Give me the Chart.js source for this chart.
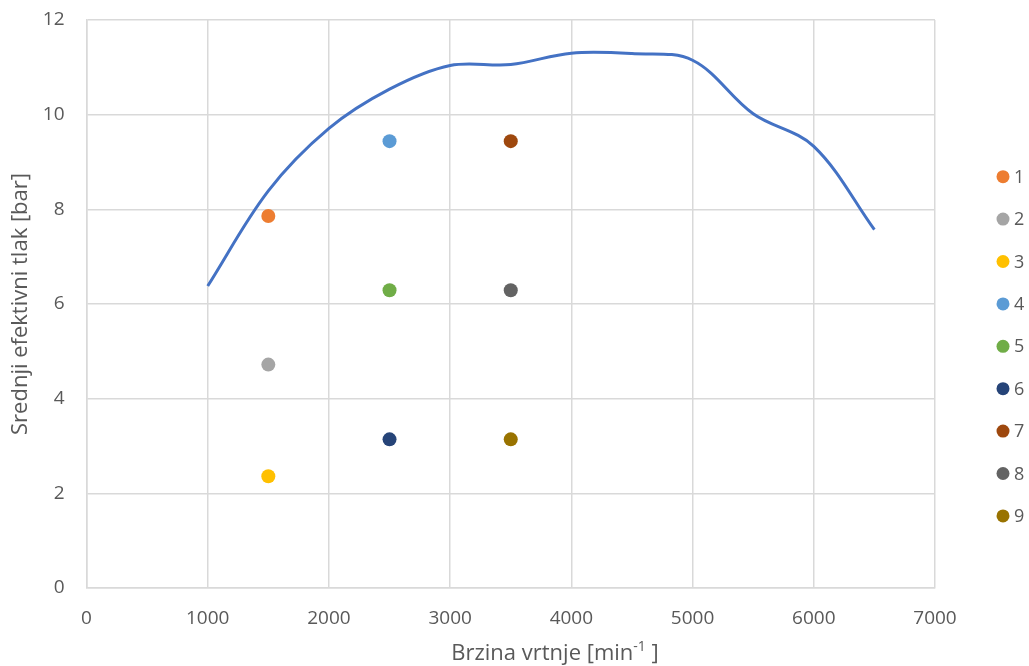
<!DOCTYPE html>
<html lang="hr">
<head>
  <meta charset="UTF-8">
  <title>Srednji efektivni tlak</title>
  <style>
    body {
      margin: 0;
      background: #fff;
    }
    #wrap {
      width: 1029px;
      height: 666px;
    }
  </style>
</head>
<body>
<div id="wrap">
  <canvas id="chart" width="1029" height="666"></canvas>
</div>

<script src="https://cdn.jsdelivr.net/npm/chart.js@4.4.0/dist/chart.umd.min.js"></script>
<script>
  // full-load curve
  const rpm = [1000, 1500, 2000, 2500, 3000, 3500, 4000, 4500, 5000, 5500, 6000, 6500];
  const pressure = [6.38, 8.39, 9.71, 10.54, 11.04, 11.06, 11.30, 11.29, 11.15, 10.02, 9.33, 7.57];

  // measurement points 1..9
  const pointNames = ['1', '2', '3', '4', '5', '6', '7', '8', '9'];
  const pointRpm = [1500, 1500, 1500, 2500, 2500, 2500, 3500, 3500, 3500];
  const pointPressure = [7.86, 4.72, 2.36, 9.44, 6.29, 3.14, 9.44, 6.29, 3.14];
  const pointColors = ['#ED7D31', '#A5A5A5', '#FFC000', '#5B9BD5', '#70AD47',
                       '#264478', '#9E480E', '#636363', '#997300'];

  const xTicks = [0, 1000, 2000, 3000, 4000, 5000, 6000, 7000];
  const yTicks = [0, 2, 4, 6, 8, 10, 12];

  const FONT = "'Open Sans', sans-serif";
  const TEXT = '#595959';
  const GRID = '#d9d9d9';

  const datasets = pointNames.map((name, i) => ({
    label: name,
    data: [{ x: pointRpm[i], y: pointPressure[i] }],
    backgroundColor: pointColors[i],
    borderColor: pointColors[i],
    borderWidth: 0,
    pointRadius: 7,
    pointHoverRadius: 7,
    inLegend: true
  }));

  datasets.push({
    label: 'krivulja',
    data: rpm.map((r, i) => ({ x: r, y: pressure[i] })),
    showLine: true,
    borderColor: '#4472C4',
    borderWidth: 3,
    pointRadius: 0,
    tension: 0.35,
    inLegend: false
  });

  // legend on the right, drawn by hand to get Excel-like spacing
  const sideLegend = {
    id: 'sideLegend',
    afterDraw(chart) {
      const ctx = chart.ctx;
      const x = chart.chartArea.right + 68;
      let y = 176.7;
      ctx.save();
      ctx.font = "18px " + FONT;
      ctx.textBaseline = 'middle';
      ctx.textAlign = 'left';
      chart.data.datasets.forEach(ds => {
        if (!ds.inLegend) return;
        ctx.fillStyle = ds.backgroundColor;
        ctx.beginPath();
        ctx.arc(x, y, 6.5, 0, Math.PI * 2);
        ctx.fill();
        ctx.fillStyle = TEXT;
        ctx.fillText(ds.label, x + 11, y + 1);
        y += 42.4;
      });
      ctx.restore();
    }
  };

  // x axis title with superscript, centred like the original
  const xTitle = {
    id: 'xTitle',
    afterDraw(chart) {
      const ctx = chart.ctx;
      const main = "Brzina vrtnje [min";
      const sup = "-1";
      const tail = " ]";
      ctx.save();
      ctx.fillStyle = TEXT;
      ctx.textBaseline = 'alphabetic';
      ctx.textAlign = 'left';
      ctx.font = "22px " + FONT;
      const w1 = ctx.measureText(main).width;
      const w3 = ctx.measureText(tail).width;
      ctx.font = "14px " + FONT;
      const w2 = ctx.measureText(sup).width;
      const total = w1 + w2 + w3;
      let x = 555 - total / 2;
      const base = 660;
      ctx.font = "22px " + FONT;
      ctx.fillText(main, x, base);
      x += w1;
      ctx.font = "14px " + FONT;
      ctx.fillText(sup, x, base - 9);
      x += w2;
      ctx.font = "22px " + FONT;
      ctx.fillText(tail, x, base);
      ctx.restore();
    }
  };

  new Chart(document.getElementById('chart'), {
    type: 'scatter',
    data: { datasets },
    options: {
      responsive: false,
      animation: false,
      layout: { padding: { top: 20, right: 94, left: 0, bottom: 0 } },
      plugins: {
        legend: { display: false },
        tooltip: { enabled: false }
      },
      scales: {
        x: {
          type: 'linear',
          min: 0,
          max: 7000,
          afterBuildTicks: s => { s.ticks = xTicks.map(v => ({ value: v })); },
          afterFit: s => { s.height = 78; },
          grid: { color: GRID, lineWidth: 1.5, drawTicks: false },
          border: { color: GRID, width: 1.5 },
          ticks: {
            color: TEXT,
            padding: 19,
            font: { family: FONT, size: 19 },
            maxRotation: 0,
            callback: v => String(v)
          }
        },
        y: {
          min: 0,
          max: 12,
          afterBuildTicks: s => { s.ticks = yTicks.map(v => ({ value: v })); },
          afterFit: s => {
            s.width = 86.5;
            s.paddingTop = 0;
            s.paddingBottom = 0;
          },
          grid: { color: GRID, lineWidth: 1.5, drawTicks: false },
          border: { color: GRID, width: 1.5 },
          ticks: {
            color: TEXT,
            padding: 22,
            font: { family: FONT, size: 19 },
            callback: v => String(v)
          },
          title: {
            display: true,
            text: 'Srednji efektivni tlak [bar]',
            color: TEXT,
            font: { family: FONT, size: 22 },
            padding: { top: 8, bottom: 0 }
          }
        }
      }
    },
    plugins: [sideLegend, xTitle]
  });
</script>
</body>
</html>
